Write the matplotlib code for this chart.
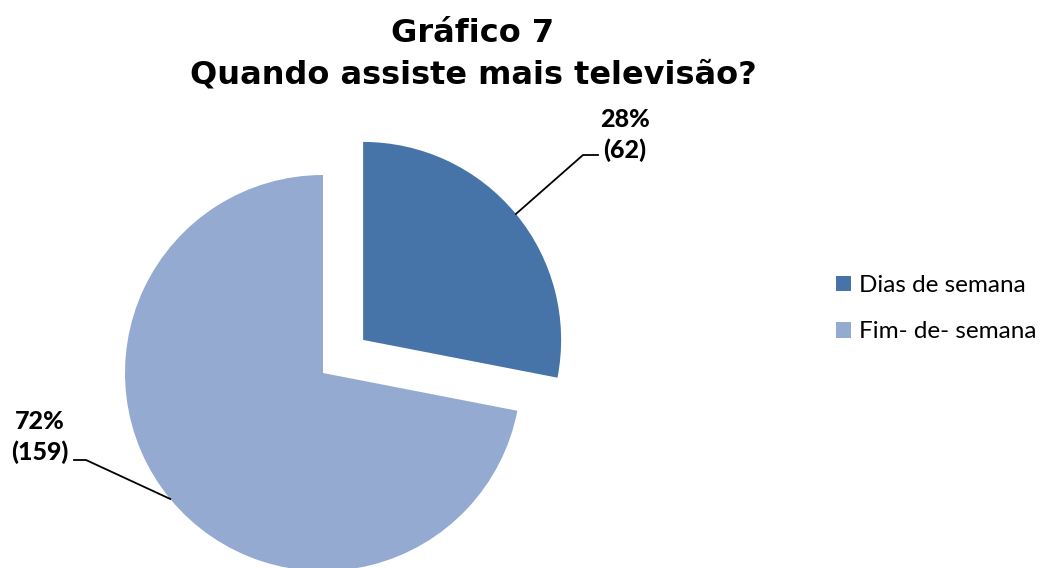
import numpy as np
import matplotlib.pyplot as plt

labels = ['Dias de semana', 'Fim- de- semana']
counts = [62, 159]
colors = ['#4674A9', '#95AAD1']

total = sum(counts)
pcts = [100.0 * c / total for c in counts]

fig = plt.figure(figsize=(10.49, 5.68), dpi=100)
ax = fig.add_axes([0, 0, 1, 1])

wedges, _ = ax.pie(counts, colors=colors, startangle=90, counterclock=False,
                   explode=[52, 0], radius=198, center=(323, 195),
                   wedgeprops=dict(linewidth=0), frame=True)
ax.set_xlim(0, 1049)
ax.set_ylim(0, 568)
ax.axis('off')

# title
ax.text(473, 526, 'Gráfico 7', ha='center', va='baseline',
        fontsize=23, fontweight='bold', family='DejaVu Sans')
ax.text(473, 484, 'Quando assiste mais televisão?', ha='center', va='baseline',
        fontsize=23, fontweight='bold', family='DejaVu Sans')

# leader lines + labels
elbows = [((583, 413), (598, 413)), ((86, 108), (74, 108))]
for w, p, c, (e1, e2) in zip(wedges, pcts, counts, elbows):
    ang = np.deg2rad((w.theta1 + w.theta2) / 2)
    sx = w.center[0] + w.r * np.cos(ang)
    sy = w.center[1] + w.r * np.sin(ang)
    ax.plot([sx, e1[0], e2[0]], [sy, e1[1], e2[1]], color='black', lw=1.3)
    txt = '%d%%\n(%d)' % (round(p), c)
    if e2[0] > e1[0]:
        ax.text(625, 433, txt, ha='center', va='center', fontsize=18,
                fontweight='black', family='Lato', linespacing=1.35)
    else:
        ax.text(40, 131, txt, ha='center', va='center', fontsize=18,
                fontweight='black', family='Lato', linespacing=1.35)

leg = ax.legend(wedges, labels, loc='upper left', bbox_to_anchor=(0.797, 0.516),
                frameon=False, handlelength=0.6, handleheight=0.6,
                handletextpad=0.35, labelspacing=1.05, borderpad=0,
                borderaxespad=0, prop={'family': 'Lato', 'size': 17.5})

fig.savefig('out.png', dpi=100)
